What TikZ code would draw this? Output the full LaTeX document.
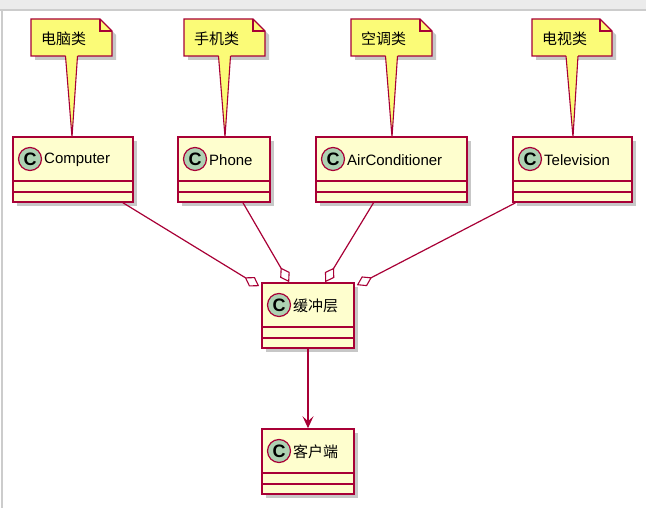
\documentclass[tikz,border=0pt]{standalone}
\usepackage{fontspec}
\setmainfont{Liberation Sans}
\newfontfamily\cjk{Noto Sans CJK SC}
\usetikzlibrary{arrows.meta,calc}
\definecolor{bord}{HTML}{A80036}
\definecolor{clsfill}{HTML}{FEFECE}
\definecolor{notefill}{HTML}{FBFB77}
\definecolor{cfill}{HTML}{ADD1B2}
\tikzset{
  edge/.style={draw=bord,line width=1.2pt},
  agg/.style={edge,-{Diamond[open,length=17pt,width=11pt,line width=1.1pt]}},
  dep/.style={edge,-{Stealth[length=12pt,width=11pt,inset=5pt]}},
  shad/.style={fill=black!22,draw=none},
}
\newcommand{\mycls}[6]{%
  \fill[shad] (#2+4,#3+4) rectangle (#4+4,#5+4);
  \node[draw=bord,line width=1.6pt,fill=clsfill,rectangle,inner sep=0pt,minimum width={(#4-#2)*1pt},minimum height={(#5-#3)*1pt}] (#1) at ({(#2+#4)/2},{(#3+#5)/2}) {};
  \draw[bord,line width=1.4pt] (#2,#3+44) -- (#4,#3+44) (#2,#3+55) -- (#4,#3+55);
  \node[circle,draw=bord,fill=cfill,line width=1.2pt,minimum size=23pt,inner sep=0pt,font=\bfseries\fontsize{18}{18}\selectfont] (#1c) at (#2+17,#3+22) {C};
  \node[anchor=west,font=\fontsize{15}{15}\selectfont,inner sep=0pt] (#1t) at (#2+31,#3+23) {#6};
}
\newcommand{\mynote}[5]{% name, x1, x2, tipx, text
  \fill[shad] (#2+4,23) -- (#3-8,23) -- (#3+4,35) -- (#3+4,60) -- (#2+4,60) -- cycle;
  \fill[notefill] ({(#2+#3)/2-6},56) -- (#4,137) -- ({(#2+#3)/2+6},56) -- cycle;
  \draw[bord,line width=1.1pt] ({(#2+#3)/2-6},56) -- (#4,137) -- ({(#2+#3)/2+6},56);
  \draw[bord,line width=1.1pt,fill=notefill] ({(#2+#3)/2+6},56) -- (#3,56) -- (#3,31) -- (#3-12,19) -- (#2,19) -- (#2,56) -- ({(#2+#3)/2-6},56);
  \draw[bord,line width=1.1pt] (#3-12,19) -- (#3-12,31) -- (#3,31);
  \node[font=\cjk\fontsize{15}{15}\selectfont,inner sep=0pt,anchor=west] (#1) at (#2+10,39) {#5};
}
\begin{document}
\begin{tikzpicture}[x=1pt,y=-1pt]
\useasboundingbox (0,0) rectangle (646,508);
\fill[black!8] (0,0) rectangle (646,9);
\draw[black!20,line width=1.5pt] (0,10) -- (646,10);
\draw[black!20,line width=1.5pt] (2,10) -- (2,508);
\mycls{comp}{13}{137}{133}{202}{Computer}
\mycls{phone}{178}{137}{270}{202}{Phone}
\mycls{air}{316}{137}{467}{202}{AirConditioner}
\mycls{tv}{513}{137}{632}{202}{Television}
\mycls{buf}{262}{283}{354}{348}{\cjk 缓冲层}
\mycls{cli}{262}{429}{354}{494}{\cjk 客户端}
\mynote{n1}{31}{112}{72}{电脑类}
\mynote{n2}{184}{265}{225}{手机类}
\mynote{n3}{351}{432}{392}{空调类}
\mynote{n4}{532}{612}{573}{电视类}
\draw[agg] ($(comp.south)+(50,0)$) -- ($(buf.north west)+(-2,4)$);
\draw[agg] ($(phone.south)+(19,0)$) -- ($(buf.north west)+(28,0)$);
\draw[agg] ($(air.south)+(-18,0)$) -- ($(buf.north west)+(64,0)$);
\draw[agg] ($(tv.south)+(-57,0)$) -- ($(buf.north east)+(2,3)$);
\draw[dep] (buf.south) -- (cli.north);
\end{tikzpicture}
\end{document}
